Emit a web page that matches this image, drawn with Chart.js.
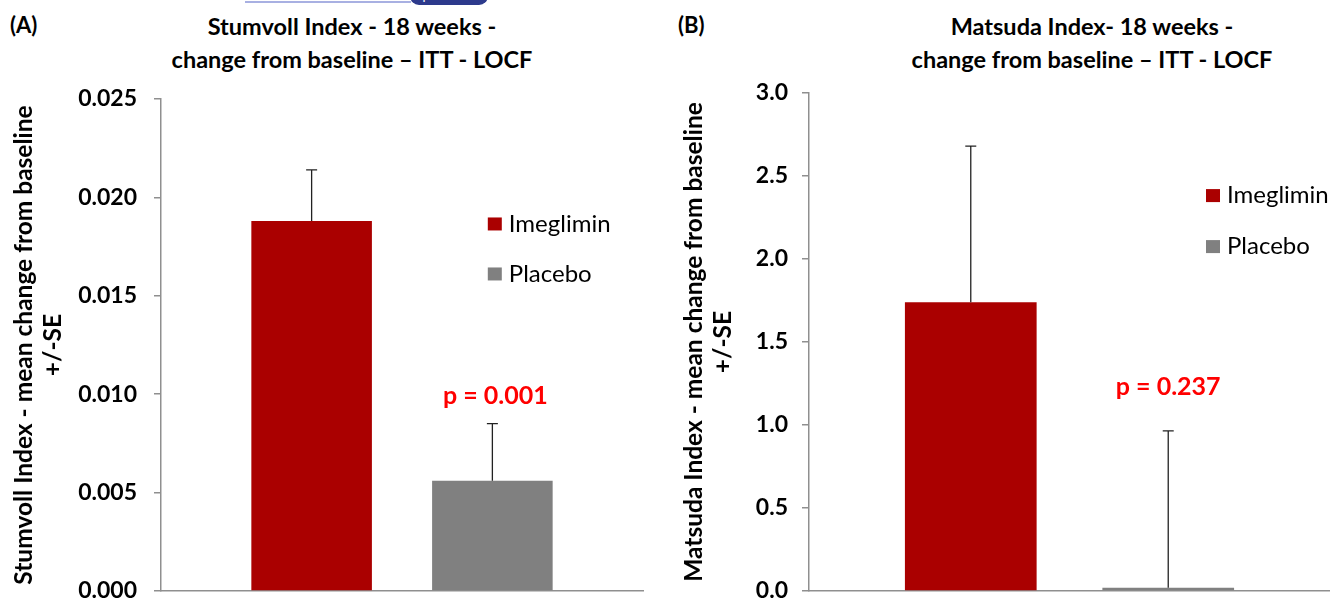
<!DOCTYPE html>
<html>
<head>
<script src="https://cdn.jsdelivr.net/npm/chart.js"></script>
<title>Stumvoll / Matsuda index</title>
<style>
  body { margin: 0; width: 1330px; height: 600px; overflow: hidden; background: #fff; font-family: Lato, sans-serif; position: relative; }
  canvas { position: absolute; top: 0; }
  .title { position: absolute; top: 10px; font-weight: bold; font-size: 23.5px; line-height: 33px; text-align: center; color: #000; white-space: nowrap; transform: translateX(-50%); }
  .panel { position: absolute; top: 11px; font-weight: bold; font-size: 22px; color: #000; }
  #oaline { position: absolute; left: 245px; top: 1px; width: 166px; height: 2px; background: #a8b0e2; }
  #oabadge { position: absolute; left: 410px; top: -14px; width: 78px; height: 19px; border-radius: 9px; background: #2d3a8c; color: #fff; font-size: 13px; line-height: 19px; text-align: center; }
</style>
</head>
<body>
<div id="oaline"></div><div id="oabadge">Open Access</div>
<div class="panel" style="left:10px">(A)</div>
<div class="panel" style="left:678px">(B)</div>
<div class="title" style="left:352px">Stumvoll Index - 18 weeks -<br>change from baseline – ITT - LOCF</div>
<div class="title" style="left:1092px">Matsuda Index- 18 weeks -<br>change from baseline – ITT - LOCF</div>
<canvas id="chartA" width="665" height="612" style="left:0"></canvas>
<canvas id="chartB" width="665" height="612" style="left:665px"></canvas>

<script>
// groups and values
const groups = ['Imeglimin', 'Placebo'];
const groupColors = ['#aa0000', '#808080'];

const stumvollMean = [0.0188, 0.0056];
const stumvollSE = [0.0026, 0.0029];
const stumvollP = 'p = 0.001';

const matsudaMean = [1.74, 0.02];
const matsudaSE = [0.94, 0.945];
const matsudaP = 'p = 0.237';

Chart.defaults.font.family = 'Lato, sans-serif';
Chart.defaults.color = '#000';

// error bars (upper half only, like the original)
const errorBars = {
  id: 'errorBars',
  afterDatasetsDraw(chart, args, opts) {
    const ctx = chart.ctx;
    const y = chart.scales.y;
    ctx.save();
    ctx.strokeStyle = opts.color;
    ctx.lineWidth = 1.3;
    chart.data.datasets.forEach((ds, i) => {
      const bar = chart.getDatasetMeta(i).data[0];
      const top = y.getPixelForValue(ds.data[0] + opts.se[i]);
      ctx.beginPath();
      ctx.moveTo(bar.x, bar.y);
      ctx.lineTo(bar.x, top);
      ctx.moveTo(bar.x - 5.5, top);
      ctx.lineTo(bar.x + 5.5, top);
      ctx.stroke();
    });
    ctx.restore();
  }
};

// legend drawn inside the plot area + p value text
const insideText = {
  id: 'insideText',
  afterDraw(chart, args, opts) {
    const ctx = chart.ctx;
    const a = chart.chartArea;
    ctx.save();
    let lx = a.left + opts.legendX * a.width;
    let ly = a.top + opts.legendY * a.height;
    ctx.font = '24px Lato, sans-serif';
    ctx.textBaseline = 'middle';
    chart.data.datasets.forEach((ds, i) => {
      const cy = ly + i * opts.legendGap;
      ctx.fillStyle = ds.backgroundColor;
      ctx.fillRect(lx, cy - 6.5, 14, 13);
      ctx.fillStyle = '#000';
      ctx.fillText(ds.label, lx + 21, cy);
    });
    const pbar = chart.getDatasetMeta(1).data[0];
    ctx.font = 'bold 25px Lato, sans-serif';
    ctx.fillStyle = '#ff0000';
    ctx.textAlign = 'center';
    ctx.fillText(opts.pText, pbar.x + opts.pShift, chart.scales.y.getPixelForValue(opts.pAt));
    ctx.restore();
  }
};

function makeChart(id, means, se, cfg) {
  const datasets = groups.map((g, i) => ({
    label: g,
    data: [means[i]],
    backgroundColor: groupColors[i],
    categoryPercentage: cfg.catPct,
    barPercentage: 0.667
  }));
  return new Chart(document.getElementById(id), {
    type: 'bar',
    data: { labels: [''], datasets: datasets },
    plugins: [errorBars, insideText],
    options: {
      responsive: false,
      animation: false,
      layout: { padding: { top: cfg.top, right: cfg.right, bottom: 21, left: 0 } },
      plugins: {
        legend: { display: false },
        tooltip: { enabled: false },
        errorBars: { se: se, color: '#222' },
        insideText: cfg.inside
      },
      scales: {
        x: {
          ticks: { display: false },
          grid: { display: false },
          border: { color: '#8f8f8f', width: 1.5 },
          afterFit: s => { s.height = 0; }
        },
        y: {
          min: 0,
          max: cfg.max,
          ticks: {
            stepSize: cfg.step,
            padding: cfg.tickPad,
            font: { size: 23, weight: 'bold' },
            callback: v => v.toFixed(cfg.digits)
          },
          grid: { drawOnChartArea: false, drawTicks: true, tickLength: 7, color: '#8f8f8f', lineWidth: 1.5 },
          border: { color: '#8f8f8f', width: 1.5 },
          title: {
            display: true,
            text: [cfg.yTitle, '+/-SE'],
            font: { size: 24.5, weight: 'bold', lineHeight: 1.18 },
            padding: { top: cfg.titlePad, bottom: 0 }
          },
          afterFit: s => {
            s.width = cfg.axisLeft;
            s.paddingTop = 0;
            s.paddingBottom = 0;
          }
        }
      }
    }
  });
}

makeChart('chartA', stumvollMean, stumvollSE, {
  max: 0.025, step: 0.005, digits: 3, tickPad: 17,
  top: 99, right: 22, axisLeft: 161, catPct: 0.75, titlePad: 10,
  yTitle: 'Stumvoll Index - mean change from baseline',
  inside: { legendX: 0.678, legendY: 0.254, legendGap: 50, pText: stumvollP, pAt: 0.0099, pShift: 3 }
});

makeChart('chartB', matsudaMean, matsudaSE, {
  max: 3.0, step: 0.5, digits: 1, tickPad: 14,
  top: 93, right: 0, axisLeft: 144, catPct: 0.758, titlePad: 15,
  yTitle: 'Matsuda Index - mean change from baseline',
  inside: { legendX: 0.762, legendY: 0.206, legendGap: 51, pText: matsudaP, pAt: 1.227, pShift: 0 }
});
</script>
</body>
</html>
